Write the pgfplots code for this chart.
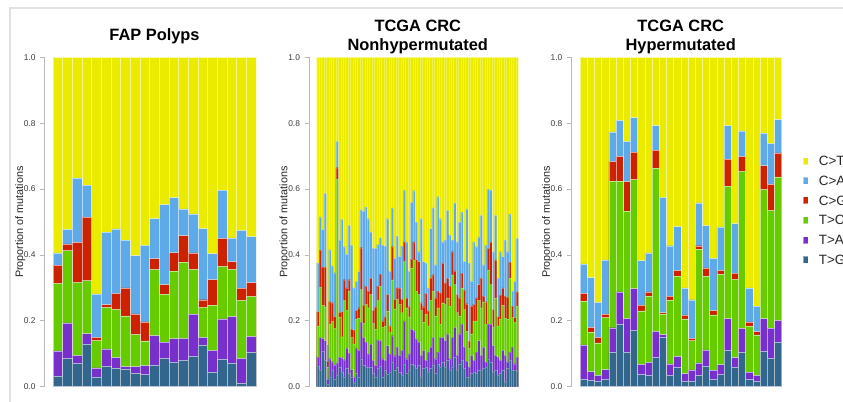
\documentclass[border=0pt]{standalone}
\usepackage{pgfplots}
\usepackage{pgfplotstable}
\usepackage{fontspec}
\setmainfont{Liberation Sans}
\pgfplotsset{compat=1.18}

\definecolor{cCT}{RGB}{235,235,0}
\definecolor{cCA}{RGB}{94,170,232}
\definecolor{cCG}{RGB}{204,34,0}
\definecolor{cTC}{RGB}{102,204,0}
\definecolor{cTA}{RGB}{120,48,204}
\definecolor{cTG}{RGB}{51,102,140}
\definecolor{framegray}{RGB}{226,226,226}
\definecolor{axisgray}{RGB}{185,185,185}
\definecolor{ticktext}{RGB}{60,60,60}

% cumulative tops of each stacked segment (bottom to top: T>G, T>A, T>C, C>G, C>A, C>T)
\pgfplotstableread{
i ct ca cg tc ta tg
1 1 .406 .369 .314 .109 .033
2 1 .478 .434 .413 .194 .086
3 1 .634 .438 .317 .095 .071
4 1 .612 .515 .322 .161 .129
5 1 .282 .150 .141 .057 .030
6 1 .469 .249 .241 .115 .062
7 1 .479 .283 .235 .088 .056
8 1 .445 .300 .215 .061 .053
9 1 .398 .221 .159 .061 .041
10 1 .429 .197 .139 .064 .037
11 1 .510 .389 .356 .155 .065
12 1 .553 .310 .281 .135 .086
13 1 .574 .407 .351 .146 .074
14 1 .540 .459 .378 .147 .080
15 1 .525 .406 .356 .220 .092
16 1 .480 .264 .241 .150 .126
17 1 .404 .325 .248 .110 .044
18 1 .597 .450 .365 .206 .083
19 1 .452 .380 .356 .213 .071
20 1 .475 .299 .262 .086 .010
21 1 .456 .316 .274 .153 .104
}\fap

\pgfplotstableread{
i ct ca cg tc ta tg
1 1 .375 .228 .185 .090 .063
2 1 .516 .415 .302 .150 .050
3 1 .477 .363 .248 .146 .108
4 1 .587 .363 .243 .140 .080
5 1 .128 .078 .060 .022 .008
6 1 .416 .258 .190 .085 .030
7 1 .367 .255 .198 .076 .050
8 1 .346 .213 .177 .066 .022
9 1 .745 .665 .630 .072 .035
10 1 .445 .226 .212 .090 .060
11 1 .508 .228 .152 .088 .045
12 1 .425 .325 .262 .082 .030
13 1 .402 .300 .232 .118 .056
14 1 .490 .325 .290 .102 .040
15 1 .430 .175 .150 .052 .028
16 1 .300 .172 .130 .030 .012
17 1 .320 .232 .205 .118 .040
18 1 .350 .240 .208 .110 .030
19 1 .537 .422 .295 .196 .085
20 1 .532 .248 .192 .150 .064
21 1 .545 .305 .250 .135 .060
22 1 .510 .290 .240 .100 .058
23 1 .470 .330 .280 .130 .060
24 1 .420 .232 .192 .080 .040
25 1 .420 .242 .175 .065 .030
26 1 .432 .305 .262 .142 .055
27 1 .453 .342 .305 .140 .062
28 1 .430 .200 .180 .085 .030
29 1 .427 .212 .185 .080 .050
30 1 .510 .280 .230 .125 .038
31 1 .350 .185 .165 .100 .045
32 1 .543 .425 .325 .155 .075
33 1 .390 .265 .236 .094 .050
34 1 .457 .300 .265 .120 .060
35 1 .395 .300 .250 .095 .045
36 1 .427 .265 .225 .110 .035
37 1 .597 .440 .380 .200 .070
38 1 .440 .270 .240 .085 .040
39 1 .350 .243 .212 .100 .050
40 1 .560 .387 .360 .175 .070
41 1 .595 .440 .385 .170 .065
42 1 .500 .386 .290 .145 .055
43 1 .410 .380 .280 .135 .065
44 1 .510 .255 .232 .095 .030
45 1 .380 .243 .196 .110 .055
46 1 .375 .283 .220 .080 .060
47 1 .300 .230 .185 .105 .045
48 1 .480 .330 .262 .120 .055
49 1 .543 .340 .290 .150 .065
50 1 .370 .270 .215 .085 .040
51 1 .577 .290 .240 .105 .070
52 1 .510 .285 .190 .150 .060
53 1 .440 .375 .255 .150 .075
54 1 .445 .315 .250 .140 .060
55 1 .535 .330 .270 .160 .080
56 1 .460 .305 .245 .085 .050
57 1 .445 .410 .340 .150 .060
58 1 .558 .352 .310 .180 .090
59 1 .440 .280 .225 .095 .050
60 1 .500 .270 .215 .160 .070
61 1 .530 .345 .300 .190 .080
62 1 .380 .294 .234 .120 .055
63 1 .540 .252 .168 .078 .030
64 1 .375 .138 .117 .060 .030
65 1 .320 .245 .160 .095 .040
66 1 .440 .250 .200 .080 .045
67 1 .425 .270 .200 .105 .040
68 1 .455 .310 .262 .140 .050
69 1 .520 .330 .240 .095 .050
70 1 .370 .275 .258 .120 .055
71 1 .430 .258 .190 .075 .060
72 1 .600 .420 .355 .190 .085
73 1 .597 .440 .310 .190 .075
74 1 .410 .235 .180 .125 .045
75 1 .520 .385 .270 .095 .050
76 1 .330 .213 .185 .090 .035
77 1 .410 .278 .205 .080 .040
78 1 .395 .300 .248 .110 .050
79 1 .445 .275 .208 .095 .015
80 1 .410 .272 .205 .075 .055
81 1 .525 .378 .330 .105 .080
82 1 .290 .245 .210 .120 .050
83 1 .320 .210 .195 .070 .050
84 1 .450 .288 .245 .090 .048
}\nonhyper

\pgfplotstableread{
i ct ca cg tc ta tg
1 1 .373 .283 .260 .127 .022
2 1 .331 .180 .166 .046 .019
3 1 .256 .150 .133 .034 .016
4 1 .385 .220 .210 .052 .022
5 1 .774 .684 .624 .179 .104
6 1 .809 .699 .624 .288 .189
7 1 .745 .623 .533 .207 .104
8 1 .817 .712 .629 .298 .172
9 1 .383 .248 .230 .068 .037
10 1 .406 .288 .275 .074 .034
11 1 .793 .718 .664 .168 .089
12 1 .575 .225 .221 .158 .150
13 1 .428 .275 .263 .069 .034
14 1 .486 .353 .336 .092 .059
15 1 .300 .218 .206 .040 .016
16 1 .264 .147 .140 .051 .016
17 1 .558 .428 .418 .072 .034
18 1 .489 .361 .336 .112 .062
19 1 .390 .231 .218 .050 .022
20 1 .485 .353 .342 .067 .037
21 1 .793 .691 .609 .207 .110
22 1 .495 .345 .326 .088 .059
23 1 .777 .699 .654 .177 .104
24 1 .300 .197 .184 .044 .022
25 1 .245 .167 .157 .034 .016
26 1 .770 .671 .599 .207 .107
27 1 .739 .614 .535 .178 .086
28 1 .811 .710 .637 .201 .135
}\hyper

\pgfplotsset{
  panel/.style={
    scale only axis, height=247pt, ymin=0, ymax=1,
    axis x line=none, axis y line*=left,
    y axis line style={axisgray, line width=0.75pt, -},
    ytick={0,0.2,0.4,0.6,0.8,1},
    tick align=outside, major tick length=3.5pt,
    every tick/.style={axisgray, line width=0.6pt},
    yticklabel style={font=\fontsize{6.3}{7}\selectfont, text=ticktext,
      /pgf/number format/.cd, fixed, fixed zerofill, precision=1, assume math mode=true},
    every axis y label/.style={at={([xshift=-18.5pt]axis description cs:0,0.5)}, rotate=90, anchor=center},
    ylabel={Proportion of mutations},
    ylabel style={font=\fontsize{8.1}{9}\selectfont, text=black!85},
    title style={font=\bfseries\fontsize{12.3}{14.25}\selectfont, align=center,
      at={(axis description cs:0.519,1)}, anchor=center, yshift=9.6pt},
  },
  segline/.style={draw=white, draw opacity=0.55, line width=0.35pt},
  seg/.style={ybar, bar width=1, fill=#1, segline,
    legend image code/.code={\fill[#1] (0pt,1.35pt) rectangle (3pt,5.85pt);}},
}

\newcommand{\stackbars}[1]{%
  \addplot[seg=cCT] table[x=i, y=ct] {#1};
  \addplot[seg=cCA] table[x=i, y=ca] {#1};
  \addplot[seg=cCG] table[x=i, y=cg] {#1};
  \addplot[seg=cTC] table[x=i, y=tc] {#1};
  \addplot[seg=cTA] table[x=i, y=ta] {#1};
  \addplot[seg=cTG] table[x=i, y=tg] {#1};
}

\begin{document}
\begin{tikzpicture}
\useasboundingbox (0,0) rectangle (632.25pt,301.5pt);
\draw[framegray, line width=1.5pt] (7.5pt,-2pt) -- (7.5pt,295.5pt) -- (640pt,295.5pt);

\begin{axis}[panel, at={(33.75pt,11.475pt)}, anchor=south west, width=158.25pt,
  xmin=-0.3276, xmax=21.5, title={FAP Polyps}]
\stackbars{\fap}
\end{axis}

\begin{axis}[panel, at={(231.98pt,11.475pt)}, anchor=south west, width=156.75pt,
  xmin=-2.583, xmax=84.5, title={TCGA CRC\\Nonhypermutated},
  segline/.style={draw=white, draw opacity=0.3, line width=0.2pt}]
\stackbars{\nonhyper}
\end{axis}

\begin{axis}[panel, at={(428.78pt,11.475pt)}, anchor=south west, width=157.5pt,
  xmin=-0.653, xmax=28.5, title={TCGA CRC\\Hypermutated},
  legend style={at={(1,0.5355)}, anchor=west, xshift=16pt, draw=none, fill=none,
    inner sep=0pt, row sep=0pt, font=\fontsize{10.1}{12}\selectfont, text=black!85,
    nodes={inner sep=0pt, text height=11pt, text depth=3.8pt, anchor=base west},
    /tikz/every odd column/.append style={column sep=8.25pt}},
  legend cell align=left]
\stackbars{\hyper}
\addlegendentry{C>T}
\addlegendentry{C>A}
\addlegendentry{C>G}
\addlegendentry{T>C}
\addlegendentry{T>A}
\addlegendentry{T>G}
\end{axis}
\end{tikzpicture}
\end{document}
